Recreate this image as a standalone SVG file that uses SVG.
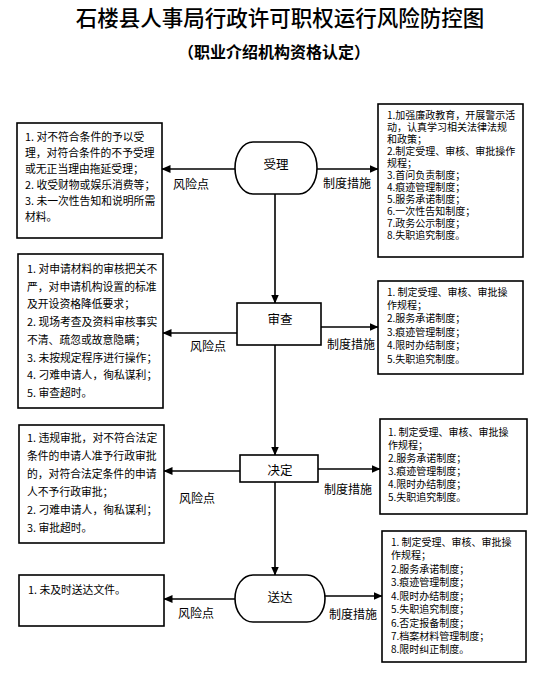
<svg xmlns="http://www.w3.org/2000/svg" width="555" height="698" viewBox="0 0 555 698">
<defs>
<style>
text{font-family:"Noto Sans CJK SC","Liberation Sans",sans-serif;fill:#000}
.box{fill:#fff;stroke:#000;stroke-width:1.6}
.node{fill:#fff;stroke:#000;stroke-width:1.6}
.conn{stroke:#000;stroke-width:1.6;fill:none;marker-end:url(#ah)}
.lt{font-size:10.8px}
.rt{font-size:10px}
.lab{font-size:12px;text-anchor:middle;dominant-baseline:central}
.nl{font-size:12.5px;text-anchor:middle;dominant-baseline:central}
</style>
<marker id="ah" markerWidth="9" markerHeight="8" refX="8.5" refY="4" orient="auto" markerUnits="userSpaceOnUse">
<path d="M0,0 L9,4 L0,8 z" fill="#000"/>
</marker>
</defs>
<rect width="555" height="698" fill="#fff"/>
<text x="280" y="16" font-size="21.5" font-weight="500" text-anchor="middle" dominant-baseline="central">石楼县人事局行政许可职权运行风险防控图</text>
<text x="274" y="51" font-size="16" font-weight="bold" text-anchor="middle" dominant-baseline="central">（职业介绍机构资格认定）</text>

<g id="connectors">
<line class="conn" x1="275" y1="194" x2="275" y2="303"/>
<line class="conn" x1="275" y1="345" x2="275" y2="455"/>
<line class="conn" x1="275" y1="482" x2="275" y2="575"/>
<line class="conn" x1="235" y1="169" x2="162" y2="169"/>
<line class="conn" x1="317" y1="169" x2="378" y2="169"/>
<line class="conn" x1="237" y1="333" x2="163" y2="333"/>
<line class="conn" x1="321" y1="327" x2="378" y2="327"/>
<line class="conn" x1="240" y1="471" x2="164" y2="471"/>
<line class="conn" x1="318" y1="469" x2="380" y2="469"/>
<line class="conn" x1="235" y1="599" x2="164" y2="599"/>
<line class="conn" x1="325" y1="596" x2="382" y2="596"/>
<text class="lab" x="191" y="183">风险点</text>
<text class="lab" x="347" y="182">制度措施</text>
<text class="lab" x="208" y="345">风险点</text>
<text class="lab" x="351" y="343">制度措施</text>
<text class="lab" x="197" y="497">风险点</text>
<text class="lab" x="348" y="488">制度措施</text>
<text class="lab" x="196" y="612">风险点</text>
<text class="lab" x="353" y="613">制度措施</text>
</g>

<g id="node-shouli">
<rect class="node" x="235" y="142" width="82" height="52" rx="18" ry="26"/>
<text class="nl" x="276" y="163">受理</text>
</g>
<g id="node-shencha">
<rect class="node" x="237" y="303" width="84" height="42"/>
<text class="nl" x="280" y="318">审查</text>
</g>
<g id="node-jueding">
<rect class="node" x="240" y="455" width="78" height="27"/>
<text class="nl" x="280" y="469">决定</text>
</g>
<g id="node-songda">
<rect class="node" x="235" y="575" width="90" height="47" rx="18" ry="23.5"/>
<text class="nl" x="280" y="596">送达</text>
</g>

<g id="risk-1">
<rect class="box" x="17" y="123" width="145" height="115"/>
<text class="lt">
<tspan x="25" y="141">1. 对不符合条件的予以受</tspan>
<tspan x="25" y="157">理，对符合条件的不予受理</tspan>
<tspan x="25" y="173">或无正当理由拖延受理；</tspan>
<tspan x="25" y="189">2. 收受财物或娱乐消费等；</tspan>
<tspan x="25" y="205">3. 未一次性告知和说明所需</tspan>
<tspan x="25" y="221">材料。</tspan>
</text>
</g>
<g id="measure-1">
<rect class="box" x="378" y="104" width="145" height="153"/>
<text class="rt">
<tspan x="387" y="119">1.加强廉政教育，开展警示活</tspan>
<tspan x="387" y="131">动，认真学习相关法律法规</tspan>
<tspan x="387" y="143">和政策；</tspan>
<tspan x="387" y="155">2.制定受理、审核、审批操作</tspan>
<tspan x="387" y="167">规程；</tspan>
<tspan x="387" y="179">3.首问负责制度；</tspan>
<tspan x="387" y="191">4.痕迹管理制度；</tspan>
<tspan x="387" y="203">5.服务承诺制度；</tspan>
<tspan x="387" y="215">6.一次性告知制度；</tspan>
<tspan x="387" y="227">7.政务公示制度；</tspan>
<tspan x="387" y="239">8.失职追究制度。</tspan>
</text>
</g>

<g id="risk-2">
<rect class="box" x="18" y="254" width="145" height="154"/>
<text class="lt">
<tspan x="27" y="273">1. 对申请材料的审核把关不</tspan>
<tspan x="27" y="290.7">严，对申请机构设置的标准</tspan>
<tspan x="27" y="308.4">及开设资格降低要求；</tspan>
<tspan x="27" y="326.1">2. 现场考查及资料审核事实</tspan>
<tspan x="27" y="343.8">不清、疏忽或故意隐瞒；</tspan>
<tspan x="27" y="361.5">3. 未按规定程序进行操作；</tspan>
<tspan x="27" y="379.2">4. 刁难申请人，徇私谋利；</tspan>
<tspan x="27" y="397">5. 审查超时。</tspan>
</text>
</g>
<g id="measure-2">
<rect class="box" x="378" y="281" width="145" height="93"/>
<text class="rt">
<tspan x="387" y="296">1. 制定受理、审核、审批操</tspan>
<tspan x="387" y="309">作规程；</tspan>
<tspan x="387" y="322">2.服务承诺制度；</tspan>
<tspan x="387" y="335.5">3.痕迹管理制度；</tspan>
<tspan x="387" y="349">4.限时办结制度；</tspan>
<tspan x="387" y="362.5">5.失职追究制度。</tspan>
</text>
</g>

<g id="risk-3">
<rect class="box" x="19" y="425" width="145" height="118"/>
<text class="lt">
<tspan x="27" y="442">1. 违规审批，对不符合法定</tspan>
<tspan x="27" y="460">条件的申请人准予行政审批</tspan>
<tspan x="27" y="478">的，对符合法定条件的申请</tspan>
<tspan x="27" y="496">人不予行政审批；</tspan>
<tspan x="27" y="514">2. 刁难申请人，徇私谋利；</tspan>
<tspan x="27" y="532">3. 审批超时。</tspan>
</text>
</g>
<g id="measure-3">
<rect class="box" x="380" y="419" width="147" height="95"/>
<text class="rt">
<tspan x="388" y="436">1. 制定受理、审核、审批操</tspan>
<tspan x="388" y="449">作规程；</tspan>
<tspan x="388" y="462">2.服务承诺制度；</tspan>
<tspan x="388" y="475">3.痕迹管理制度；</tspan>
<tspan x="388" y="488">4.限时办结制度；</tspan>
<tspan x="388" y="501">5.失职追究制度。</tspan>
</text>
</g>

<g id="risk-4">
<rect class="box" x="19" y="575" width="145" height="51"/>
<text class="lt">
<tspan x="28" y="594">1. 未及时送达文件。</tspan>
</text>
</g>
<g id="measure-4">
<rect class="box" x="382" y="531" width="144" height="131"/>
<text class="rt">
<tspan x="391" y="546">1. 制定受理、审核、审批操</tspan>
<tspan x="391" y="559">作规程；</tspan>
<tspan x="391" y="572.5">2.服务承诺制度；</tspan>
<tspan x="391" y="586">3.痕迹管理制度；</tspan>
<tspan x="391" y="599.5">4.限时办结制度；</tspan>
<tspan x="391" y="613">5.失职追究制度；</tspan>
<tspan x="391" y="626.5">6.否定报备制度；</tspan>
<tspan x="391" y="640">7.档案材料管理制度；</tspan>
<tspan x="391" y="653">8.限时纠正制度。</tspan>
</text>
</g>
</svg>
